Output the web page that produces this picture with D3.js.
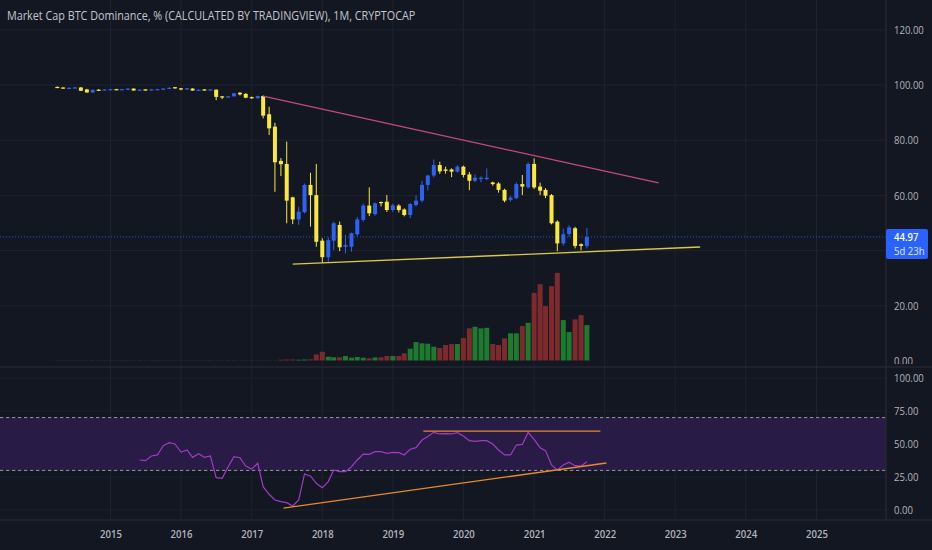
<!DOCTYPE html>
<meta charset="utf-8">
<script src="https://d3js.org/d3.v7.min.js"></script>
<style>
  body { margin: 0; background: #131722; }
  svg { display: block; font-family: "Open Sans", "Noto Sans", sans-serif; }
</style>
<body>
<div id="chart"></div>
<script>
  // monthly candles, Apr 2014 .. Oct 2021
  var months = d3.timeMonth.range(new Date(2014, 3, 1), new Date(2021, 10, 1));

  var open = [99.3, 99.1, 98.9, 99.0, 99.1, 98.4, 97.3, 98.3, 98.2, 98.3,
    98.5, 98.3, 98.5, 98.7, 98.0, 98.4, 98.2, 98.3, 98.5, 98.7,
    99.2, 98.8, 98.5, 98.7, 98.1, 98.4, 98.2, 98.3, 95.9, 95.6,
    95.9, 97.2, 96.8, 95.6, 95.2, 96.0, 89.4, 84.9, 72.5, 71.4,
    59.3, 51.3, 53.9, 63.8, 60.1, 43.6, 37.6, 43.6, 49.3, 41.4,
    41.4, 45.9, 51.1, 56.3, 53.2, 57.6, 57.7, 54.7, 56.3, 54.9,
    52.9, 56.5, 58.1, 63.8, 67.2, 71.0, 69.4, 69.4, 68.6, 70.4,
    67.6, 65.3, 65.9, 65.9, 64.7, 64.3, 62.0, 58.4, 59.0, 64.1,
    62.9, 71.4, 63.2, 62.0, 60.1, 50.5, 42.6, 46.0, 48.1, 42.3,
    41.7];
  var high = [99.5, 99.2, 99.1, 99.3, 99.3, 98.6, 98.4, 98.5, 98.5, 98.6,
    98.6, 98.6, 98.8, 98.8, 98.4, 98.5, 98.5, 98.6, 98.8, 99.1,
    99.3, 98.9, 98.9, 98.8, 98.4, 98.5, 98.5, 98.4, 96.0, 96.0,
    97.1, 97.4, 97.0, 95.8, 96.1, 96.2, 92.1, 86.3, 73.5, 79.5,
    59.5, 55.9, 64.3, 68.2, 71.4, 44.5, 44.8, 50.5, 50.5, 45.7,
    46.5, 52.2, 57.0, 62.9, 57.5, 57.8, 60.1, 57.0, 56.8, 55.3,
    57.2, 60.0, 65.3, 67.5, 73.0, 72.2, 70.4, 69.8, 71.0, 70.8,
    68.5, 67.6, 66.9, 69.8, 65.0, 64.8, 62.4, 59.8, 64.7, 67.4,
    72.0, 73.4, 64.6, 62.6, 60.5, 51.0, 48.0, 49.2, 48.6, 42.6,
    48.2];
  var low = [99.0, 98.6, 98.8, 98.9, 97.8, 97.2, 97.2, 98.0, 98.1, 98.2,
    98.2, 98.2, 98.4, 97.9, 97.9, 98.1, 98.1, 98.2, 98.4, 98.6,
    98.7, 98.1, 98.4, 97.9, 98.0, 98.1, 98.1, 94.5, 94.9, 95.4,
    95.8, 96.2, 95.2, 95.0, 95.1, 87.9, 81.9, 61.3, 67.0, 49.9,
    49.6, 49.3, 53.5, 48.7, 41.4, 35.6, 35.9, 40.2, 39.8, 39.0,
    39.6, 45.1, 50.5, 52.5, 52.6, 56.0, 54.0, 54.0, 53.8, 52.4,
    51.8, 56.0, 57.5, 61.8, 66.5, 67.8, 67.9, 66.6, 68.2, 66.5,
    61.9, 64.8, 64.8, 65.5, 63.5, 61.0, 57.5, 57.7, 58.6, 60.1,
    62.5, 62.3, 60.1, 59.0, 49.5, 39.8, 41.8, 45.0, 40.8, 40.1,
    40.8];
  var close = [99.1, 98.9, 99.0, 99.1, 97.9, 97.3, 98.2, 98.2, 98.4, 98.5,
    98.3, 98.5, 98.7, 98.0, 98.3, 98.2, 98.4, 98.5, 98.7, 99.0,
    98.8, 98.4, 98.8, 98.0, 98.3, 98.2, 98.4, 95.7, 95.6, 95.9,
    97.0, 96.6, 95.4, 95.2, 96.0, 88.9, 84.3, 72.0, 71.3, 58.1,
    51.3, 54.1, 63.8, 60.1, 43.2, 37.6, 43.8, 49.9, 41.2, 42.0,
    46.3, 51.3, 56.3, 53.5, 57.1, 57.3, 54.7, 56.4, 54.7, 52.9,
    56.9, 58.1, 63.8, 67.2, 71.0, 68.7, 68.9, 68.6, 70.4, 67.4,
    65.3, 66.4, 66.4, 66.4, 64.1, 62.0, 58.1, 59.2, 64.1, 63.2,
    71.4, 62.9, 61.7, 59.9, 49.9, 42.6, 45.9, 48.4, 41.7, 41.7,
    44.97];
  var volume = [0.2, 0.2, 0.2, 0.2, 0.2, 0.2, 0.2, 0.2, 0.2, 0.2,
    0.2, 0.2, 0.2, 0.2, 0.2, 0.2, 0.2, 0.2, 0.2, 0.2,
    0.2, 0.2, 0.2, 0.2, 0.2, 0.2, 0.2, 0.2, 0.2, 0.2,
    0.2, 0.2, 0.2, 0.2, 0.2, 0.2, 0.2, 0.2, 0.8, 1.0,
    1.0, 0.8, 1.0, 1.2, 6.0, 8.8, 3.8, 3.2, 3.2, 4.5,
    2.8, 3.5, 2.8, 2.2, 3.0, 3.2, 4.5, 4.5, 4.5, 7.2,
    11.8, 18.5, 17.2, 16.8, 13.8, 12.5, 15.5, 16.5, 16.5, 22.5,
    32.2, 33.8, 32.2, 32.8, 16.5, 15.5, 22.2, 27.2, 27.2, 34.5,
    37.8, 67.8, 76.5, 54.5, 74.5, 87.8, 40.5, 28.5, 41.2, 45.5,
    35.5];
  // RSI(14), first 14 months empty
  var rsi = [null, null, null, null, null, null, null, null, null, null,
    null, null, null, null, 37.9, 37.4, 40.9, 41.7, 48.7, 51.0,
    50.0, 43.9, 45.5, 39.9, 42.7, 39.9, 40.9, 24.5, 24.0, 32.8,
    40.4, 39.6, 33.3, 31.0, 35.4, 17.7, 11.9, 7.6, 6.3, 5.6,
    3.0, 7.6, 27.3, 25.8, 20.2, 16.9, 21.5, 30.3, 29.0, 29.0,
    32.8, 37.9, 42.4, 42.2, 44.2, 44.2, 42.9, 43.7, 43.4, 41.7,
    46.0, 47.2, 53.0, 55.6, 58.8, 57.6, 57.8, 57.6, 58.6, 56.1,
    52.5, 52.0, 52.5, 52.5, 50.0, 45.5, 41.7, 41.7, 49.2, 49.7,
    58.8, 53.5, 47.2, 45.0, 34.1, 30.3, 34.1, 36.2, 33.6, 33.3,
    36.6];

  var years = [2015, 2016, 2017, 2018, 2019, 2020, 2021, 2022, 2023, 2024, 2025];
  var priceGrid = [20, 40, 60, 80, 100, 120];
  var priceLabels = [0, 20, 60, 80, 100, 120];   // 40 sits under the last-price tag
  var rsiTicks = [0, 25, 50, 75, 100];
  var lastPrice = 44.97;

  // drawn trend lines [date, value]
  var upperLine = [[new Date(2017, 2, 1), 96.0], [new Date(2022, 9, 7), 64.5]];
  var lowerLine = [[new Date(2017, 7, 1), 35.1], [new Date(2023, 4, 10), 41.3]];
  var rsiTop = [[new Date(2019, 5, 8), 59.8], [new Date(2021, 11, 10), 59.8]];
  var rsiBottom = [[new Date(2017, 5, 14), 1.5], [new Date(2022, 0, 10), 35.6]];

  var W = 932, H = 550;
  var plotRight = 886, paneSplit = 367, axisTop = 520;
  var up = "#2e62f0", down = "#fbe83e";
  var grid = "#1f2330", txt = "#b2b5be";
  var squeeze = 0.83;   // screenshot text is narrower than the local fonts

  var data = months.map(function (d, i) {
    return { date: d, o: open[i], h: high[i], l: low[i], c: close[i], v: volume[i], r: rsi[i] };
  });

  var x = d3.scaleTime()
    .domain([new Date(2014, 3, 1), new Date(2025, 0, 1)])
    .range([57.3, 816.5]);
  var y = d3.scaleLinear().domain([0, 120]).range([361, 29.8]);
  var yv = d3.scaleLinear().domain([0, 88]).range([360.5, 272.7]);
  var yr = d3.scaleLinear().domain([0, 100]).range([510, 378]);

  var svg = d3.select("#chart").append("svg")
    .attr("width", W)
    .attr("height", H);

  svg.append("rect").attr("width", W).attr("height", H).attr("fill", "#131722");

  var defs = svg.append("defs");
  defs.append("clipPath").attr("id", "mainClip")
    .append("rect").attr("x", 0).attr("y", 0).attr("width", plotRight).attr("height", paneSplit);
  defs.append("clipPath").attr("id", "rsiClip")
    .append("rect").attr("x", 0).attr("y", paneSplit).attr("width", plotRight).attr("height", axisTop - paneSplit);
  defs.append("clipPath").attr("id", "pAxisClip")
    .append("rect").attr("x", plotRight).attr("y", 0).attr("width", W - plotRight).attr("height", 364);

  // grid
  svg.append("g").selectAll("line")
    .data(years)
    .enter()
    .append("line")
    .attr("x1", function (d) { return x(new Date(d, 0, 1)); })
    .attr("x2", function (d) { return x(new Date(d, 0, 1)); })
    .attr("y1", 0).attr("y2", axisTop)
    .attr("stroke", grid);
  svg.append("g").selectAll("line")
    .data(priceGrid)
    .enter()
    .append("line")
    .attr("x1", 0).attr("x2", plotRight)
    .attr("y1", function (d) { return y(d); })
    .attr("y2", function (d) { return y(d); })
    .attr("stroke", grid);

  // ---- main pane
  var main = svg.append("g").attr("clip-path", "url(#mainClip)");

  // volume
  main.append("g").selectAll("rect")
    .data(data)
    .enter()
    .append("rect")
    .attr("x", function (d) { return x(d.date) - 2.5; })
    .attr("y", function (d) { return yv(d.v); })
    .attr("width", 5)
    .attr("height", function (d) { return yv(0) - yv(d.v); })
    .attr("fill", function (d) { return d.c >= d.o ? "#1e7a2e" : "#7d2a2d"; });

  // last price line
  main.append("line")
    .attr("x1", 0).attr("x2", plotRight)
    .attr("y1", y(lastPrice)).attr("y2", y(lastPrice))
    .attr("stroke", "#2962ff")
    .attr("stroke-dasharray", "1,2")
    .attr("opacity", 0.8);

  // candles
  var candle = main.append("g").selectAll("g")
    .data(data)
    .enter()
    .append("g");
  candle.append("line")
    .attr("x1", function (d) { return x(d.date); })
    .attr("x2", function (d) { return x(d.date); })
    .attr("y1", function (d) { return y(d.h); })
    .attr("y2", function (d) { return y(d.l); })
    .attr("stroke", function (d) { return d.c >= d.o ? up : down; });
  candle.append("rect")
    .attr("x", function (d) { return x(d.date) - 2; })
    .attr("y", function (d) { return y(Math.max(d.o, d.c)); })
    .attr("width", 4)
    .attr("height", function (d) { return Math.max(1.2, Math.abs(y(d.o) - y(d.c))); })
    .attr("fill", function (d) { return d.c >= d.o ? up : down; });

  // trend lines
  var seg = d3.line()
    .x(function (d) { return x(d[0]); })
    .y(function (d) { return y(d[1]); });
  main.append("path").attr("d", seg(upperLine))
    .attr("stroke", "#c44a7f").attr("stroke-width", 1.3).attr("fill", "none");
  main.append("path").attr("d", seg(lowerLine))
    .attr("stroke", "#d9c94c").attr("stroke-width", 1.3).attr("fill", "none");

  // title
  svg.append("text")
    .attr("class", "sq")
    .attr("x", 7).attr("y", 20)
    .attr("font-size", "13px")
    .attr("fill", "#c3c6ce")
    .text("Market Cap BTC Dominance, % (CALCULATED BY TRADINGVIEW), 1M, CRYPTOCAP");

  // ---- RSI pane
  var rp = svg.append("g").attr("clip-path", "url(#rsiClip)");
  rp.append("rect")
    .attr("x", 0).attr("width", plotRight)
    .attr("y", yr(70)).attr("height", yr(30) - yr(70))
    .attr("fill", "#281b45");
  rp.append("g").selectAll("line")
    .data(rsiTicks)
    .enter()
    .append("line")
    .attr("x1", 0).attr("x2", plotRight)
    .attr("y1", function (d) { return yr(d); })
    .attr("y2", function (d) { return yr(d); })
    .attr("stroke", grid)
    .attr("stroke-opacity", 0.7);
  rp.append("g").selectAll("line")
    .data([70, 30])
    .enter()
    .append("line")
    .attr("x1", 0).attr("x2", plotRight)
    .attr("y1", function (d) { return yr(d); })
    .attr("y2", function (d) { return yr(d); })
    .attr("stroke", "#9598a1")
    .attr("stroke-dasharray", "3.3,2.7");

  rp.append("path")
    .datum(data)
    .attr("d", d3.line()
      .defined(function (d) { return d.r != null; })
      .x(function (d) { return x(d.date); })
      .y(function (d) { return yr(d.r); }))
    .attr("fill", "none")
    .attr("stroke", "#a13ac6")
    .attr("stroke-width", 1.2);

  var rseg = d3.line()
    .x(function (d) { return x(d[0]); })
    .y(function (d) { return yr(d[1]); });
  rp.append("path").attr("d", rseg(rsiTop))
    .attr("stroke", "#e68a2e").attr("stroke-width", 1.3).attr("fill", "none");
  rp.append("path").attr("d", rseg(rsiBottom))
    .attr("stroke", "#e68a2e").attr("stroke-width", 1.3).attr("fill", "none");

  // separators
  svg.append("line").attr("x1", 0).attr("x2", W).attr("y1", paneSplit).attr("y2", paneSplit)
    .attr("stroke", "#2a2e39");
  svg.append("line").attr("x1", 0).attr("x2", W).attr("y1", axisTop).attr("y2", axisTop)
    .attr("stroke", "#2a2e39");
  svg.append("line").attr("x1", plotRight).attr("x2", plotRight).attr("y1", 0).attr("y2", axisTop)
    .attr("stroke", "#2a2e39");

  // ---- axes
  var pAxis = svg.append("g")
    .attr("clip-path", "url(#pAxisClip)")
    .append("g")
    .attr("transform", "translate(" + plotRight + ",0)")
    .call(d3.axisRight(y).tickValues(priceLabels).tickFormat(d3.format(".2f")).tickSize(0).tickPadding(8));
  var rAxis = svg.append("g")
    .attr("transform", "translate(" + plotRight + ",0)")
    .call(d3.axisRight(yr).tickValues(rsiTicks).tickFormat(d3.format(".2f")).tickSize(0).tickPadding(8));
  var tAxis = svg.append("g")
    .attr("transform", "translate(0," + axisTop + ")")
    .call(d3.axisBottom(x)
      .tickValues(years.map(function (d) { return new Date(d, 0, 1); }))
      .tickFormat(d3.timeFormat("%Y"))
      .tickSize(0).tickPadding(10));

  [pAxis, rAxis, tAxis].forEach(function (a) {
    a.select(".domain").remove();
    a.selectAll("text")
      .attr("class", "sq")
      .attr("fill", txt)
      .attr("font-size", "11.5px")
      .attr("font-family", "Open Sans, Noto Sans, sans-serif");
  });
  tAxis.selectAll("text").attr("font-weight", 600);

  // last price tag
  svg.append("rect")
    .attr("x", plotRight).attr("y", y(lastPrice) - 8)
    .attr("width", 42).attr("height", 30)
    .attr("rx", 2)
    .attr("fill", "#2962ff");
  svg.append("text")
    .attr("class", "sq")
    .attr("x", plotRight + 8).attr("y", y(lastPrice) + 4)
    .attr("font-size", "11.5px").attr("font-weight", 600)
    .attr("fill", "#ffffff")
    .text(d3.format(".2f")(lastPrice));
  svg.append("text")
    .attr("class", "sq")
    .attr("x", plotRight + 8).attr("y", y(lastPrice) + 18)
    .attr("font-size", "11.5px")
    .attr("fill", "#e3e8ff")
    .text("5d 23h");

  // narrow the glyphs to the screenshot's text widths
  svg.selectAll("text.sq").each(function () {
    var len = this.getComputedTextLength();
    d3.select(this)
      .attr("textLength", len * squeeze)
      .attr("lengthAdjust", "spacingAndGlyphs");
  });
</script>
</body>
